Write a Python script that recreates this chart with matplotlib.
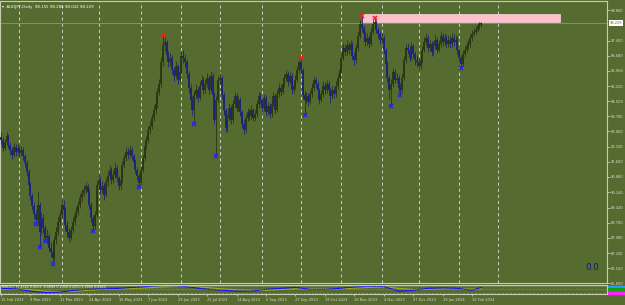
import matplotlib
matplotlib.use("Agg")
import matplotlib.pyplot as plt
import matplotlib.transforms as mtransforms
from matplotlib.patches import Rectangle
import numpy as np
import pandas as pd

BG = "#556b2f"
LIGHT = "#dcdcc8"

# daily bars AUDJPY, 15 Feb 2023 .. 19 Feb 2024 (no bars on 25 Dec / 1 Jan)
closes = [
    92.65, 92.26, 92.55, 92.84, 92.41, 92.17, 91.93, 92.31, 92.07, 92.26,
    92.03, 92.17, 91.88, 91.55, 91.12, 90.50, 89.97, 89.49, 89.11, 88.82,
    89.54, 88.25, 88.92, 88.44, 87.96, 88.06, 87.49, 87.30, 87.01, 87.87,
    88.25, 88.73, 89.06, 89.54, 89.30, 88.58, 88.25, 87.96, 88.35, 88.73,
    89.06, 89.21, 89.54, 89.87, 90.11, 90.26, 90.45, 90.16, 89.54, 88.92,
    88.54, 89.06, 90.50, 90.74, 90.26, 90.45, 90.02, 90.64, 90.93, 91.21,
    90.74, 90.98, 91.31, 90.83, 90.45, 90.74, 91.45, 91.79, 92.07, 91.93,
    92.17, 91.88, 91.60, 91.21, 90.93, 90.59, 91.21, 91.79, 92.36, 92.65,
    93.12, 93.32, 93.70, 94.08, 94.37, 94.94, 95.32, 96.38, 97.19, 97.33,
    96.71, 96.38, 96.57, 95.99, 95.71, 96.19, 95.52, 95.90, 96.66, 96.57,
    96.38, 95.80, 95.13, 94.56, 94.08, 94.80, 95.04, 94.66, 95.23, 95.52,
    95.04, 95.32, 95.61, 95.04, 95.71, 94.80, 93.60, 94.56, 95.52, 95.61,
    94.80, 94.08, 93.22, 93.70, 94.18, 93.60, 94.37, 94.75, 94.18, 94.56,
    93.98, 93.41, 93.12, 93.70, 93.98, 93.79, 94.08, 93.70, 93.89, 94.37,
    94.75, 94.56, 94.18, 94.66, 93.98, 94.27, 93.89, 94.37, 94.75, 94.08,
    94.85, 95.13, 94.94, 95.32, 95.61, 95.80, 95.42, 95.71, 95.04, 95.23,
    95.52, 95.99, 96.38, 95.99, 94.80, 94.56, 94.75, 94.46, 94.85, 95.13,
    95.52, 95.32, 95.04, 94.56, 94.85, 95.23, 95.04, 95.32, 95.04, 94.75,
    95.04, 94.85, 95.23, 95.61, 95.99, 96.57, 97.05, 96.85, 97.19, 96.95,
    97.24, 96.66, 96.47, 97.05, 97.62, 98.19, 98.00, 97.71, 97.33, 97.52,
    97.24, 97.81, 98.19, 98.29, 97.91, 97.71, 97.43, 97.52, 96.95, 96.28,
    95.61, 95.04, 95.32, 95.90, 95.52, 95.61, 95.13, 95.04, 95.61, 96.47,
    97.05, 96.95, 96.57, 97.14, 96.76, 96.47, 96.38, 96.19, 96.47, 96.95,
    97.33, 97.52, 97.05, 97.24, 96.85, 97.14, 97.43, 96.95, 97.24, 97.62,
    97.33, 97.52, 97.24, 97.43, 97.24, 97.52, 97.33, 97.43, 96.95, 96.57,
    96.28, 96.76, 96.95, 97.14, 97.24, 97.52, 97.71, 97.81, 97.91, 98.10,
    98.19, 98.229,
]
highs = [
    93.05, 92.80, 92.70, 93.05, 92.95, 92.55, 92.30, 92.50, 92.45, 92.45,
    92.40, 92.35, 92.30, 92.00, 91.70, 91.25, 90.65, 90.10, 89.70, 89.30,
    90.20, 89.70, 89.20, 89.10, 88.60, 88.40, 88.20, 87.75, 87.60, 88.05,
    88.50, 88.95, 89.30, 89.85, 89.80, 89.45, 88.80, 88.45, 88.55, 88.95,
    89.25, 89.45, 89.75, 90.05, 90.30, 90.50, 90.65, 90.55, 90.30, 89.70,
    89.05, 89.25, 90.70, 91.00, 90.90, 90.70, 90.60, 90.85, 91.15, 91.45,
    91.35, 91.20, 91.55, 91.45, 90.95, 90.90, 91.65, 92.00, 92.30, 92.25,
    92.40, 92.30, 92.00, 91.75, 91.35, 91.05, 91.40, 91.95, 92.55, 92.85,
    93.30, 93.55, 93.90, 94.30, 94.60, 95.15, 95.55, 96.60, 97.65, 97.55,
    97.45, 96.90, 96.80, 96.70, 96.15, 96.40, 96.30, 96.10, 96.90, 96.95,
    96.75, 96.50, 95.95, 95.30, 94.75, 95.00, 95.30, 95.20, 95.45, 95.75,
    95.65, 95.55, 95.85, 95.75, 95.95, 95.85, 94.95, 94.75, 95.70, 95.85,
    95.75, 94.95, 94.20, 93.90, 94.40, 94.30, 94.55, 94.95, 94.90, 94.75,
    94.70, 94.10, 93.60, 93.90, 94.20, 94.15, 94.30, 94.20, 94.10, 94.55,
    94.95, 94.90, 94.70, 94.85, 94.80, 94.45, 94.40, 94.55, 94.95, 94.85,
    95.05, 95.35, 95.30, 95.50, 95.80, 96.00, 95.95, 95.90, 95.85, 95.45,
    95.75, 96.20, 96.60, 96.55, 96.10, 95.00, 94.95, 94.90, 95.05, 95.35,
    95.70, 95.65, 95.45, 95.15, 95.05, 95.45, 95.40, 95.50, 95.45, 95.20,
    95.25, 95.20, 95.45, 95.85, 96.20, 96.80, 97.30, 97.20, 97.45, 97.35,
    97.45, 97.35, 96.85, 97.25, 97.85, 98.40, 98.55, 98.15, 97.85, 97.75,
    97.65, 98.00, 98.40, 98.50, 98.40, 98.05, 97.85, 97.75, 97.65, 97.05,
    96.40, 95.75, 95.55, 96.10, 96.05, 95.85, 95.75, 95.35, 95.85, 96.65,
    97.25, 97.30, 97.10, 97.35, 97.25, 96.90, 96.70, 96.55, 96.70, 97.15,
    97.55, 97.75, 97.65, 97.45, 97.40, 97.35, 97.65, 97.55, 97.45, 97.85,
    97.75, 97.75, 97.65, 97.65, 97.60, 97.75, 97.70, 97.65, 97.55, 97.05,
    96.70, 96.95, 97.15, 97.35, 97.45, 97.70, 97.90, 98.00, 98.10, 98.25,
    98.30, 98.286,
]
lows = [
    92.45, 92.10, 92.15, 92.40, 92.25, 91.95, 91.75, 91.85, 91.90, 91.95,
    91.85, 91.90, 91.70, 91.35, 90.95, 90.30, 89.80, 89.30, 88.90, 88.65,
    88.60, 87.55, 88.10, 88.20, 87.80, 87.70, 87.30, 87.05, 86.70, 86.90,
    87.70, 88.10, 88.55, 88.90, 89.10, 88.30, 88.00, 87.75, 87.85, 88.20,
    88.60, 88.90, 89.05, 89.40, 89.70, 89.95, 90.10, 89.95, 89.35, 88.75,
    88.30, 88.40, 88.95, 90.30, 90.05, 90.10, 89.80, 89.90, 90.45, 90.80,
    90.55, 90.60, 90.85, 90.65, 90.25, 90.30, 90.60, 91.30, 91.65, 91.75,
    91.80, 91.70, 91.40, 91.05, 90.75, 90.40, 90.50, 91.10, 91.65, 92.20,
    92.50, 92.95, 93.15, 93.55, 93.90, 94.20, 94.80, 95.20, 96.20, 96.90,
    96.50, 96.15, 96.20, 95.80, 95.45, 95.60, 95.30, 95.40, 95.80, 96.35,
    96.15, 95.60, 94.90, 94.35, 93.85, 93.40, 94.60, 94.45, 94.55, 95.10,
    94.85, 94.90, 95.20, 94.85, 94.95, 94.60, 93.40, 91.90, 94.45, 95.30,
    94.60, 93.85, 93.05, 93.05, 93.55, 93.40, 93.45, 94.20, 94.00, 94.05,
    93.80, 93.20, 92.95, 93.00, 93.55, 93.60, 93.65, 93.55, 93.55, 93.75,
    94.20, 94.35, 94.00, 94.05, 93.80, 93.85, 93.70, 93.75, 94.25, 93.90,
    94.00, 94.70, 94.75, 94.85, 95.20, 95.45, 95.25, 95.30, 94.85, 94.90,
    95.10, 95.40, 95.85, 95.80, 94.60, 93.85, 94.40, 94.25, 94.35, 94.70,
    95.00, 95.15, 94.85, 94.35, 94.45, 94.70, 94.85, 94.90, 94.85, 94.40,
    94.60, 94.65, 94.70, 95.10, 95.45, 95.85, 96.45, 96.65, 96.70, 96.75,
    96.80, 96.45, 96.25, 96.35, 96.90, 97.50, 97.80, 97.45, 97.15, 97.20,
    97.05, 97.15, 97.70, 98.05, 97.75, 97.50, 97.25, 97.25, 96.75, 96.05,
    95.40, 94.60, 94.25, 95.20, 95.35, 95.35, 94.95, 94.80, 94.95, 95.50,
    96.35, 96.75, 96.40, 96.45, 96.55, 96.25, 96.15, 96.00, 96.05, 96.35,
    96.85, 97.20, 96.85, 96.90, 96.65, 96.70, 97.00, 96.80, 96.85, 97.10,
    97.15, 97.20, 97.05, 97.10, 97.05, 97.10, 97.15, 97.20, 96.75, 96.35,
    96.10, 96.20, 96.60, 96.85, 97.00, 97.10, 97.40, 97.60, 97.70, 97.80,
    97.95, 98.042,
]
first_open = 92.80
last_open = 98.155
bid = 98.229

# fractal-like markers (bar numbers)
high_marks = [88, 163, 196, 203]
low_marks = [19, 21, 24, 28, 50, 75, 105, 117, 165, 212, 217, 250]

# pink zone
zone_start, zone_end = 196, 304
zone_low, zone_high = 98.27, 98.67

price_ticks = [98.860, 97.400, 96.680, 95.960, 95.220, 94.500, 93.780, 93.060,
               92.320, 91.600, 90.880, 90.140, 89.420, 88.700, 87.980, 87.240,
               86.520, 85.800]

date_labels = ["15 Feb 2023", "9 Mar 2023", "31 Mar 2023", "24 Apr 2023", "16 May 2023",
               "7 Jun 2023", "29 Jun 2023", "21 Jul 2023", "14 Aug 2023", "5 Sep 2023",
               "27 Sep 2023", "19 Oct 2023", "10 Nov 2023", "4 Dec 2023", "27 Dec 2023",
               "19 Jan 2024", "12 Feb 2024"]

month_starts = ["2023-03-01", "2023-04-03", "2023-05-01", "2023-06-01", "2023-07-03",
                "2023-08-01", "2023-09-01", "2023-10-02", "2023-11-01", "2023-12-01",
                "2024-01-02", "2024-02-01", "2024-03-01"]

# sub window indicator, sampled every 8 bars
ind_bars = [0, 8, 16, 24, 32, 40, 48, 56, 64, 72, 80, 88, 96, 104, 112, 120, 128,
            136, 144, 152, 160, 168, 176, 184, 192, 200, 208, 216, 224, 232, 240,
            248, 256, 261]
ind_blue = [60, 55, 30, 15, 20, 40, 50, 55, 60, 70, 80, 90, 85, 70, 50, 40, 30,
            30, 50, 60, 70, 50, 50, 60, 75, 80, 80, 30, 40, 60, 65, 60, 40, 70]
ind_olive = [55, 55, 45, 30, 25, 30, 40, 50, 55, 60, 65, 75, 80, 78, 68, 55, 45,
             38, 40, 48, 55, 58, 55, 55, 62, 70, 76, 60, 48, 50, 56, 58, 52, 55]

# ---- dates ----
dates = pd.bdate_range("2023-02-15", "2024-02-19")
dates = dates[~dates.isin(pd.to_datetime(["2023-12-25", "2024-01-01"]))]
all_dates = dates.append(pd.bdate_range("2024-02-20", "2024-07-31"))
n = len(closes)

c = np.array(closes)
h = np.array(highs)
l = np.array(lows)
o = np.array([first_open] + closes[:-1])
o[-1] = last_open
idx = np.arange(n)

fig = plt.figure(figsize=(6.25, 3.05), dpi=100, facecolor=BG)
ax = fig.add_axes([0.0, 0.0705, 0.9712, 0.9262], facecolor=BG)
ax2 = fig.add_axes([0.0, 0.036, 0.9712, 0.031], facecolor=BG, sharex=ax)

# month grid
for d in month_starts:
    ax.axvline(all_dates.get_loc(pd.Timestamp(d)), color="#ececec", lw=0.55,
               ls=(0, (4, 4)), zorder=1)

# zone + bid line
ax.add_patch(Rectangle((zone_start, zone_low), zone_end - zone_start, zone_high - zone_low,
                       facecolor="#ffc0cb", edgecolor="#ffd6de", lw=0.5, zorder=2))
ax.axhline(bid, color="#7b8aa2", lw=0.8, zorder=2)

# candles
up = c >= o
dn = ~up
bull = "#2a3610"
bear = "#1a247c"
ax.vlines(idx[up], l[up], h[up], color=bull, lw=0.6, zorder=3)
ax.vlines(idx[up], o[up], c[up], color=bull, lw=1.3, zorder=3)
ax.vlines(idx[dn], l[dn], h[dn], color=bear, lw=0.6, zorder=3)
ax.vlines(idx[dn], o[dn], c[dn], color=bear, lw=1.3, zorder=3)

ax.plot(high_marks, h[high_marks], "x", color="#ff1a1a", ms=3, mew=1.1, zorder=4)
ax.plot(low_marks, l[low_marks], "x", color="#2222ff", ms=3, mew=1.1, zorder=4)

ax.set_xlim(-0.55, 329.3)
ax.set_ylim(85.79, 99.29)

ax.yaxis.tick_right()
ax.set_yticks(price_ticks)
ax.set_yticklabels([f"{v:.3f}" for v in price_ticks])
ax.tick_params(axis="y", labelsize=2.6, colors=LIGHT, length=2, width=0.5, pad=1)
ax.tick_params(axis="x", bottom=False, labelbottom=False)
for s in ax.spines.values():
    s.set_color("#c8ccb4")
    s.set_linewidth(0.8)

trans = mtransforms.blended_transform_factory(ax.transAxes, ax.transData)
ax.text(1.004, bid, f"{bid:.3f}", transform=trans, fontsize=2.6, color=BG,
        va="center", ha="left", bbox=dict(boxstyle="square,pad=0.25", fc="white", ec="none"))

ax.text(0.003, 0.985, "\u25be  AUDJPY,Daily  98.155 98.286 98.042 98.229", transform=ax.transAxes,
        fontsize=2.9, color="white", va="top", ha="left")
ax.text(0.975, 0.055, "0.0", transform=ax.transAxes, fontsize=6.3, color="#16168c",
        ha="center", va="center")

# indicator window
ax2.plot(ind_bars, ind_olive, color="#a4ac1c", lw=0.8)
ax2.plot(ind_bars, ind_blue, color="#1414ff", lw=0.8)
ax2.axhline(15, color="#ff30ff", lw=0.7, ls=(0, (2, 2)))
ax2.axhline(50, color="#9a9aa8", lw=0.4, ls=(0, (2, 2)))
ax2.axhline(80, color="#9a9aa8", lw=0.4, ls=(0, (2, 2)))
ax2.set_ylim(0, 100)
ax2.text(0.003, 0.92, "RMO(7) 75.4322 0.0003 -0.0088 0.2050 0.2050 1.0000 0.4940",
         transform=ax2.transAxes, fontsize=2.3, color="white", va="top", ha="left")
for yb, hb, col in [(0.62, 0.22, "#3399ff"), (0.25, 0.37, "#11a011"), (0.0, 0.2, "#ff22ff")]:
    ax2.add_patch(Rectangle((1.0, yb), 0.028, hb, transform=ax2.transAxes,
                            color=col, clip_on=False))
for s in ax2.spines.values():
    s.set_color("#c8ccb4")
    s.set_linewidth(0.8)
ax2.set_yticks([])

label_pos = [dates.get_loc(pd.Timestamp(d)) for d in pd.to_datetime(date_labels, format="%d %b %Y")]
ax2.set_xticks(label_pos)
ax2.set_xticklabels(date_labels, ha="left")
ax2.tick_params(axis="x", labelsize=2.6, colors=LIGHT, length=1.5, width=0.5, pad=1.2,
                labelbottom=True)

fig.savefig("out.png", dpi=100, facecolor=BG)
